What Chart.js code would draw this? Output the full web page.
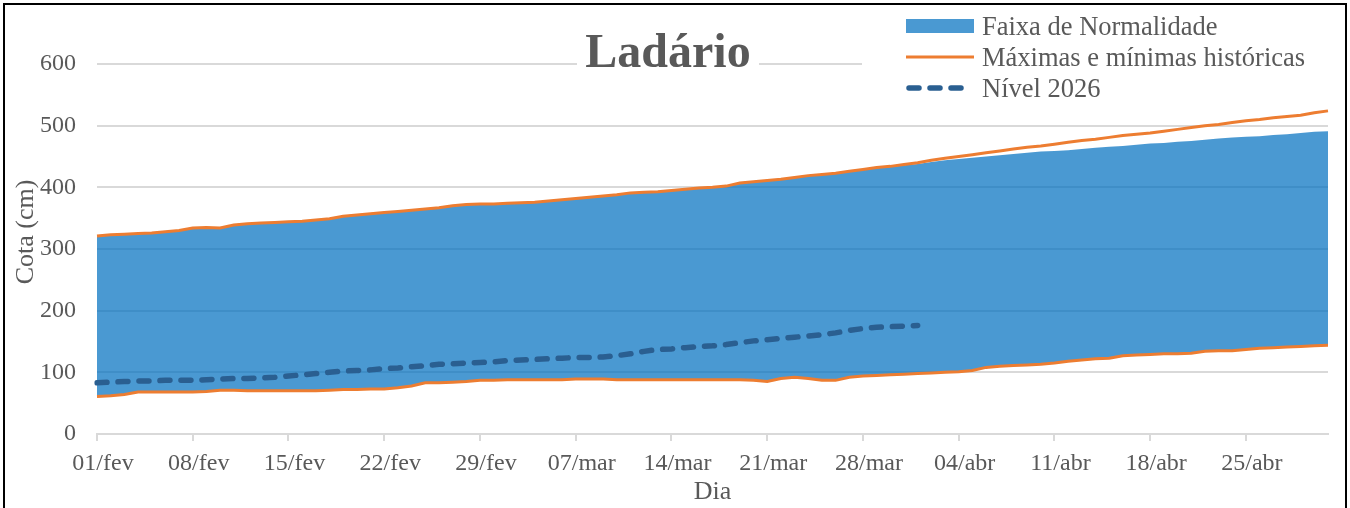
<!DOCTYPE html>
<html>
<head>
<meta charset="utf-8">
<script src="https://cdn.jsdelivr.net/npm/chart.js@4.4.1/dist/chart.umd.min.js"></script>
<style>
    html, body { margin: 0; padding: 0; background: #fff; overflow: hidden; }
    #wrap { position: relative; width: 1350px; height: 508px; }
    #frame { position: absolute; left: 3px; top: 3px; width: 1340px; height: 520px; border: 2px solid #000; pointer-events: none; }
</style>
</head>
<body>
<div id="wrap">
    <canvas id="chart" width="1350" height="508"></canvas>
    <div id="frame"></div>
</div>
<script>
// Daily categories 01/fev .. 01/mai (February shown with 29 days)
const monthNames = ['fev', 'mar', 'abr', 'mai'];
const monthDays = [29, 31, 30, 1];
const labels = [];
monthNames.forEach((mn, k) => {
    for (let d = 1; d <= monthDays[k]; d++) labels.push(String(d).padStart(2, '0') + '/' + mn);
});

// Máximas históricas (cm)
const maxHist = [
    321, 323, 324, 325, 326, 328, 330, 334, 335, 334,
    339, 341, 342, 343, 344, 345, 347, 349, 353, 355,
    357, 359, 361, 363, 365, 367, 370, 372, 373, 373,
    374, 375, 376, 378, 380, 382, 384, 386, 388, 391,
    392, 393, 395, 397, 399, 400, 402, 407, 409, 411,
    413, 416, 419, 421, 423, 426, 429, 432, 434, 437,
    440, 444, 447, 450, 453, 456, 459, 462, 465, 467,
    470, 473, 476, 478, 481, 484, 486, 488, 491, 494,
    497, 500, 502, 505, 508, 510, 513, 515, 517, 521,
    524
];

// Limite superior da faixa de normalidade (cm)
const bandTop = [
    320, 322, 323, 324, 325, 327, 329, 333, 334, 333,
    338, 340, 341, 342, 343, 344, 346, 348, 352, 354,
    356, 358, 360, 362, 364, 366, 369, 371, 372, 372,
    373, 374, 375, 377, 379, 381, 383, 385, 387, 390,
    391, 392, 394, 396, 398, 399, 401, 406, 408, 410,
    412, 415, 418, 420, 422, 425, 428, 431, 433, 436,
    438, 441, 444, 446, 448, 450, 452, 454, 456, 458,
    459, 460, 462, 464, 466, 467, 469, 471, 472, 474,
    475, 477, 479, 481, 482, 483, 485, 486, 488, 490,
    491
];

// Mínimas históricas (cm) = limite inferior da faixa
const minHist = [
    61, 62, 64, 68, 68, 68, 68, 68, 69, 71,
    71, 70, 70, 70, 70, 70, 70, 71, 72, 72,
    73, 73, 75, 78, 83, 83, 84, 85, 87, 87,
    88, 88, 88, 88, 88, 89, 89, 89, 88, 88,
    88, 88, 88, 88, 88, 88, 88, 88, 87, 85,
    90, 92, 90, 87, 87, 92, 94, 95, 96, 97,
    98, 99, 100, 101, 103, 108, 110, 111, 112, 113,
    115, 118, 120, 122, 123, 127, 128, 129, 130, 130,
    131, 134, 135, 135, 137, 139, 140, 141, 142, 143,
    144
];

// Nível 2026 (cm)
const nivel2026 = [
    83, 84, 85, 86, 86, 87, 87, 87, 88, 89,
    90, 90, 91, 92, 94, 96, 98, 100, 102, 103,
    104, 106, 107, 109, 111, 113, 114, 115, 116, 117,
    119, 120, 121, 122, 123, 124, 124, 125, 127, 130,
    134, 137, 138, 140, 142, 143, 145, 148, 151, 153,
    155, 157, 159, 161, 164, 168, 171, 173, 174, 175,
    176
];

const yTicks = [0, 100, 200, 300, 400, 500, 600];

const FONT = "'Liberation Serif', 'Times New Roman', serif";
const TEXT = '#595959';
const GRID = '#d9d9d9';
const ORANGE = '#ED7D31';
const BAND = 'rgba(0, 112, 192, 0.71)';
const DARK = '#2a5f91';
const DASH = [10, 11];

Chart.defaults.font.family = FONT;
Chart.defaults.color = TEXT;

// Title, legend and y title drawn over the plot with white backgrounds
const overlay = {
    id: 'overlay',
    afterDraw(chart) {
        const ctx = chart.ctx;
        ctx.save();

        // title
        ctx.fillStyle = '#fff';
        ctx.fillRect(577, 28, 182, 50);
        ctx.font = `bold 48px ${FONT}`;
        ctx.fillStyle = TEXT;
        ctx.textAlign = 'center';
        ctx.textBaseline = 'alphabetic';
        ctx.fillText('Ladário', 668, 67);

        // legend
        ctx.fillStyle = '#fff';
        ctx.fillRect(862, 6, 478, 100);
        ctx.font = `26.5px ${FONT}`;
        ctx.textAlign = 'left';
        const rows = [
            { text: 'Faixa de Normalidade', y: 26 },
            { text: 'Máximas e mínimas históricas', y: 57 },
            { text: 'Nível 2026', y: 88 }
        ];
        ctx.fillStyle = BAND;
        ctx.fillRect(906, 19, 68, 14);
        ctx.lineWidth = 3;
        ctx.strokeStyle = ORANGE;
        ctx.beginPath(); ctx.moveTo(906, 57); ctx.lineTo(974, 57); ctx.stroke();
        ctx.lineWidth = 5.5;
        ctx.lineCap = 'round';
        ctx.strokeStyle = DARK;
        ctx.setLineDash(DASH);
        ctx.beginPath(); ctx.moveTo(909, 88); ctx.lineTo(972, 88); ctx.stroke();
        ctx.setLineDash([]);
        ctx.fillStyle = TEXT;
        rows.forEach(r => ctx.fillText(r.text, 982, r.y + 8.5));

        // y axis title
        ctx.font = `26px ${FONT}`;
        ctx.translate(26, 232);
        ctx.rotate(-Math.PI / 2);
        ctx.textAlign = 'center';
        ctx.textBaseline = 'middle';
        ctx.fillText('Cota (cm)', 0, 0);

        ctx.restore();
    }
};

new Chart(document.getElementById('chart'), {
    type: 'line',
    data: {
        labels: labels,
        datasets: [
            {
                label: 'Mínimas históricas',
                data: minHist,
                borderColor: ORANGE,
                borderWidth: 3,
                pointRadius: 0,
                tension: 0,
                fill: false,
                order: 2
            },
            {
                label: 'Faixa de Normalidade',
                data: bandTop,
                borderWidth: 0,
                borderColor: 'rgba(0,0,0,0)',
                backgroundColor: BAND,
                pointRadius: 0,
                tension: 0,
                fill: 0,
                order: 3
            },
            {
                label: 'Máximas e mínimas históricas',
                data: maxHist,
                borderColor: ORANGE,
                borderWidth: 3,
                pointRadius: 0,
                tension: 0,
                fill: false,
                order: 2
            },
            {
                label: 'Nível 2026',
                data: nivel2026,
                borderColor: DARK,
                borderWidth: 5.5,
                borderDash: DASH,
                borderCapStyle: 'round',
                pointRadius: 0,
                tension: 0,
                fill: false,
                order: 1
            }
        ]
    },
    options: {
        responsive: false,
        animation: false,
        layout: { padding: { left: 0, top: 64, right: 22, bottom: 0 } },
        scales: {
            x: {
                offset: false,
                grid: {
                    drawOnChartArea: false,
                    drawTicks: true,
                    tickLength: 7,
                    lineWidth: 2,
                    color: c => (c.index % 7 === 0 ? GRID : 'rgba(0,0,0,0)')
                },
                border: { color: GRID, width: 2 },
                ticks: {
                    autoSkip: false,
                    maxRotation: 0,
                    padding: 8,
                    labelOffset: 6,
                    font: { size: 24 },
                    callback: (v, i) => (i % 7 === 0 ? labels[i] : '')
                },
                title: {
                    display: true,
                    text: 'Dia',
                    font: { size: 26 },
                    padding: { top: 0, bottom: 0 }
                },
                afterFit: s => { s.height = 74; }
            },
            y: {
                min: yTicks[0],
                max: yTicks[yTicks.length - 1],
                afterBuildTicks: s => { s.ticks = yTicks.map(v => ({ value: v })); },
                grid: { color: GRID, lineWidth: 2, drawTicks: false },
                border: { display: false },
                ticks: { padding: 21, font: { size: 24 } },
                afterFit: s => { s.width = 97; }
            }
        },
        plugins: {
            legend: { display: false },
            tooltip: { enabled: false }
        }
    },
    plugins: [overlay]
});
</script>
</body>
</html>
